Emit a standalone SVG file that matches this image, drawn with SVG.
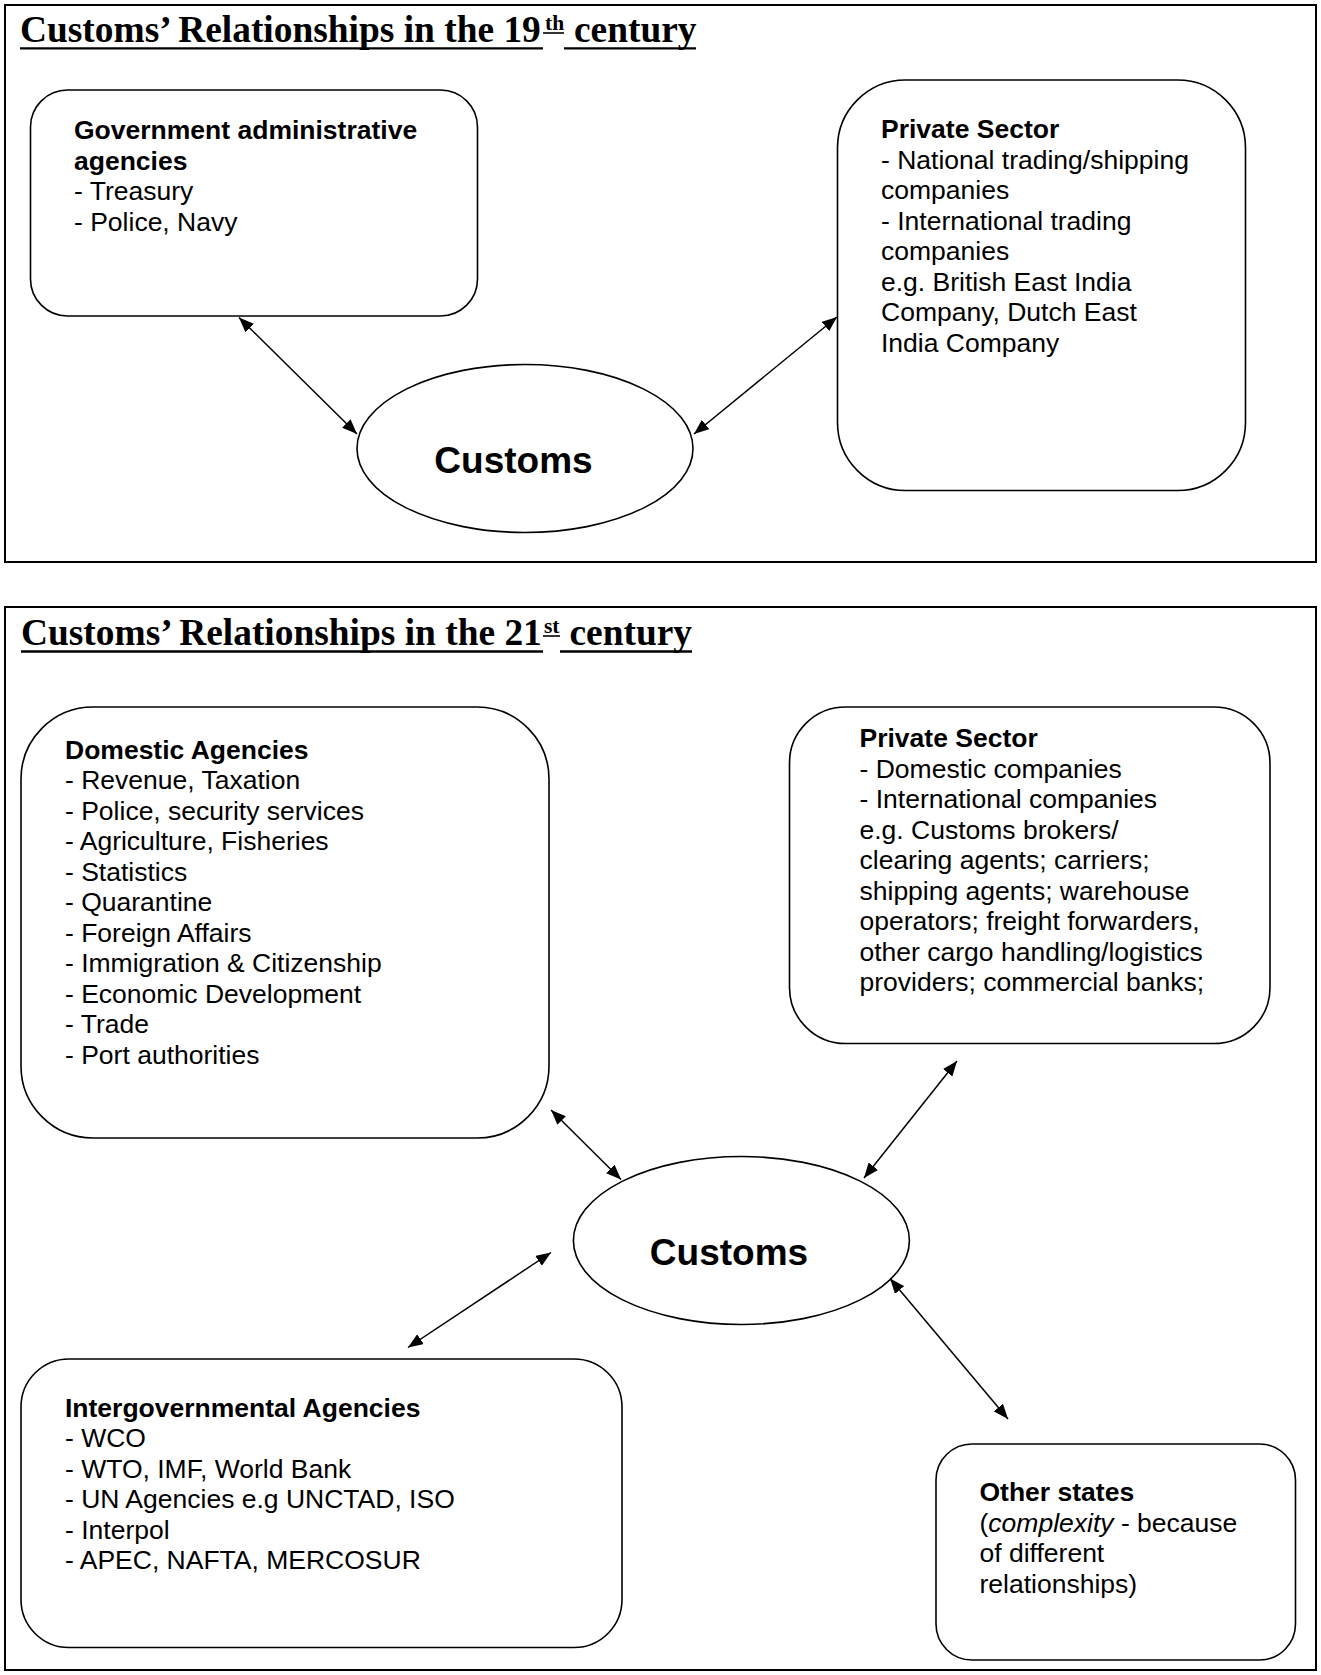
<svg xmlns="http://www.w3.org/2000/svg" width="1321" height="1675" viewBox="0 0 1321 1675">
<style>
.frame{fill:none;stroke:#000;stroke-width:2}
.box{fill:#fff;stroke:#000;stroke-width:1.6}
.ell{fill:#fff;stroke:#000;stroke-width:1.6}
.t{font-family:"Liberation Sans",Arial,sans-serif;font-size:26.5px;fill:#000}
.b{font-weight:bold}
.title{font-family:"Liberation Serif","Times New Roman",serif;font-weight:bold;font-size:37.4px;fill:#000}
.sup{font-family:"Liberation Serif","Times New Roman",serif;font-weight:bold;font-size:21.5px;fill:#000}
.cust{font-family:"Liberation Sans",Arial,sans-serif;font-weight:bold;font-size:37px;fill:#000;text-anchor:middle}
.ul{stroke:#000;stroke-width:2.3}
.ulS{stroke:#000;stroke-width:1.6}
.conn line{stroke:#000;stroke-width:1.5;marker-start:url(#ah);marker-end:url(#ah)}
</style>
<defs>
<marker id="ah" markerUnits="userSpaceOnUse" markerWidth="15" markerHeight="12" refX="15" refY="6" orient="auto-start-reverse">
<path d="M0,0 L15,6 L0,12 z" fill="#000"/>
</marker>
</defs>
<rect width="1321" height="1675" fill="#fff"/>

<!-- 19th century panel -->
<g id="panel19">
<rect class="frame" x="5" y="5" width="1311" height="557"/>
<text class="title" x="20" y="42">Customs’ Relationships in the 19</text>
<text class="sup" x="545" y="29.5">th</text>
<text class="title" x="574" y="42">century</text>
<line class="ul" x1="20" y1="48.3" x2="543" y2="48.3"/>
<line class="ulS" x1="543" y1="33" x2="564" y2="33"/>
<line class="ul" x1="564" y1="48.3" x2="696" y2="48.3"/>
</g>

<g id="gov19">
<rect class="box" x="30.5" y="90" width="447" height="226" rx="37" ry="37"/>
<text class="t b" x="74" y="139">Government administrative</text>
<text class="t b" x="74" y="169.5">agencies</text>
<text class="t" x="74" y="200">- Treasury</text>
<text class="t" x="74" y="230.5">- Police, Navy</text>
</g>

<g id="private19">
<rect class="box" x="837.5" y="80" width="408" height="410.5" rx="68" ry="68"/>
<text class="t b" x="881" y="138">Private Sector</text>
<text class="t" x="881" y="168.5">- National trading/shipping</text>
<text class="t" x="881" y="199">companies</text>
<text class="t" x="881" y="229.5">- International trading</text>
<text class="t" x="881" y="260">companies</text>
<text class="t" x="881" y="290.5">e.g. British East India</text>
<text class="t" x="881" y="321">Company, Dutch East</text>
<text class="t" x="881" y="351.5">India Company</text>
</g>

<g id="customs19">
<ellipse class="ell" cx="525" cy="448.5" rx="168" ry="84"/>
<text class="cust" x="513.5" y="472.7">Customs</text>
</g>

<!-- 21st century panel -->
<g id="panel21">
<rect class="frame" x="5" y="607" width="1311" height="1063"/>
<text class="title" x="21" y="645">Customs’ Relationships in the 21</text>
<text class="sup" x="544" y="632.5">st</text>
<text class="title" x="569.5" y="645">century</text>
<line class="ul" x1="21" y1="651.5" x2="543" y2="651.5"/>
<line class="ulS" x1="543" y1="636" x2="560" y2="636"/>
<line class="ul" x1="560" y1="651.5" x2="692" y2="651.5"/>
</g>

<g id="domestic">
<rect class="box" x="21" y="707" width="528" height="431" rx="72" ry="72"/>
<text class="t b" x="65" y="758.5">Domestic Agencies</text>
<text class="t" x="65" y="789">- Revenue, Taxation</text>
<text class="t" x="65" y="819.5">- Police, security services</text>
<text class="t" x="65" y="850">- Agriculture, Fisheries</text>
<text class="t" x="65" y="880.5">- Statistics</text>
<text class="t" x="65" y="911">- Quarantine</text>
<text class="t" x="65" y="941.5">- Foreign Affairs</text>
<text class="t" x="65" y="972">- Immigration &amp; Citizenship</text>
<text class="t" x="65" y="1002.5">- Economic Development</text>
<text class="t" x="65" y="1033">- Trade</text>
<text class="t" x="65" y="1063.5">- Port authorities</text>
</g>

<g id="private21">
<rect class="box" x="789.5" y="707" width="480.5" height="336.5" rx="56" ry="56"/>
<text class="t b" x="859.5" y="747">Private Sector</text>
<text class="t" x="859.5" y="777.5">- Domestic companies</text>
<text class="t" x="859.5" y="808">- International companies</text>
<text class="t" x="859.5" y="838.5">e.g. Customs brokers/</text>
<text class="t" x="859.5" y="869">clearing agents; carriers;</text>
<text class="t" x="859.5" y="899.5">shipping agents; warehouse</text>
<text class="t" x="859.5" y="930">operators; freight forwarders,</text>
<text class="t" x="859.5" y="960.5">other cargo handling/logistics</text>
<text class="t" x="859.5" y="991">providers; commercial banks;</text>
</g>

<g id="customs21">
<ellipse class="ell" cx="741.4" cy="1240.5" rx="168" ry="84"/>
<text class="cust" x="729" y="1265">Customs</text>
</g>

<g id="intergov">
<rect class="box" x="21" y="1359" width="601" height="288.5" rx="48" ry="48"/>
<text class="t b" x="65" y="1416.5">Intergovernmental Agencies</text>
<text class="t" x="65" y="1447">- WCO</text>
<text class="t" x="65" y="1477.5">- WTO, IMF, World Bank</text>
<text class="t" x="65" y="1508">- UN Agencies e.g UNCTAD, ISO</text>
<text class="t" x="65" y="1538.5">- Interpol</text>
<text class="t" x="65" y="1569">- APEC, NAFTA, MERCOSUR</text>
</g>

<g id="otherstates">
<rect class="box" x="936" y="1444" width="359.5" height="216" rx="36" ry="36"/>
<text class="t b" x="979.5" y="1501">Other states</text>
<text class="t" x="979.5" y="1531.5">(<tspan font-style="italic">complexity</tspan> - because</text>
<text class="t" x="979.5" y="1562">of different</text>
<text class="t" x="979.5" y="1592.5">relationships)</text>
</g>

<g id="connectors" class="conn">
<line x1="239" y1="317.5" x2="357" y2="434"/>
<line x1="694" y1="434" x2="837" y2="317"/>
<line x1="551" y1="1110" x2="621" y2="1179.5"/>
<line x1="957" y1="1061" x2="864" y2="1178"/>
<line x1="551" y1="1252.5" x2="408" y2="1347.5"/>
<line x1="890" y1="1278.5" x2="1008" y2="1419"/>
</g>
</svg>
